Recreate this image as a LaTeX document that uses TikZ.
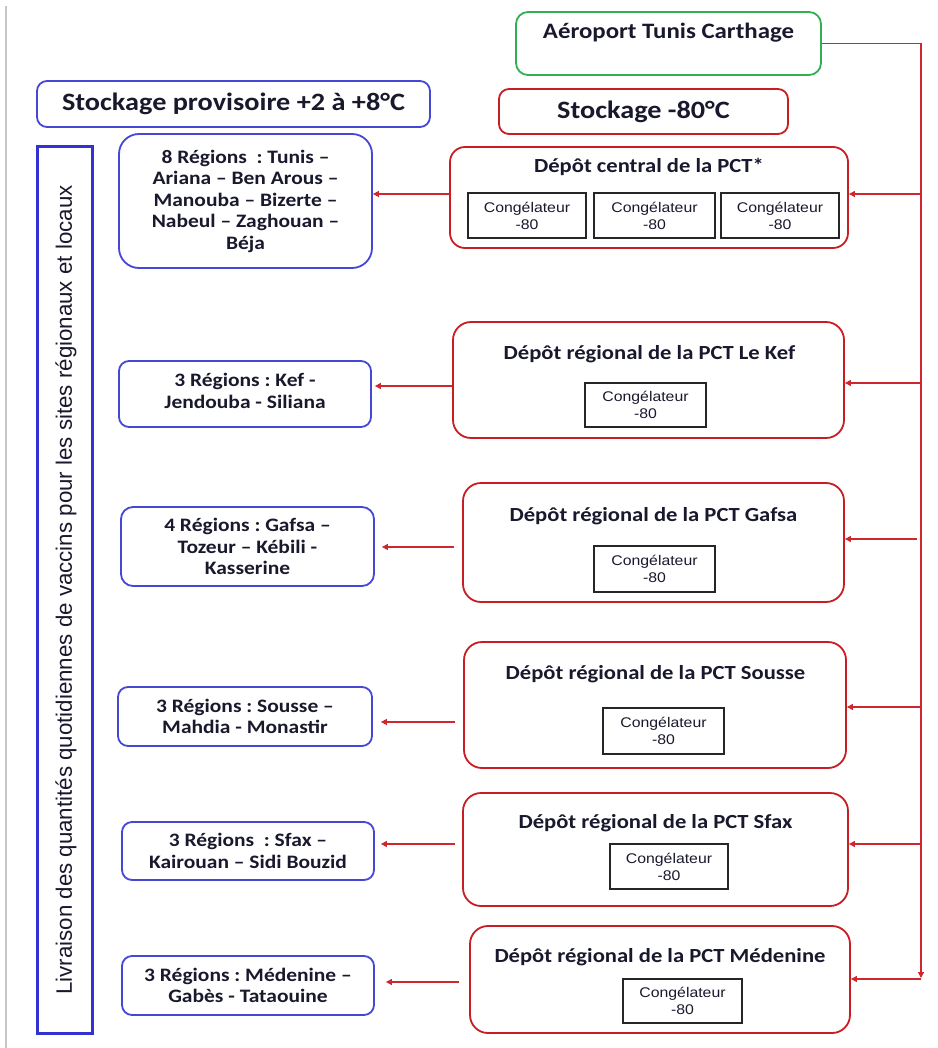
\documentclass[tikz,border=0pt]{standalone}
\usepackage{fontspec}
\usetikzlibrary{arrows.meta}
\newfontfamily\calb[FakeStretch=1.13]{Carlito}
\newfontfamily\arl[FakeStretch=1.13]{Liberation Sans}
\newfontfamily\arlv{Liberation Sans}
\definecolor{boxblue}{RGB}{70,70,215}
\definecolor{vblue}{RGB}{50,50,210}
\definecolor{boxred}{RGB}{200,30,35}
\definecolor{linered}{RGB}{205,40,45}
\definecolor{boxgreen}{RGB}{50,175,85}
\definecolor{txt}{RGB}{25,25,45}
\frenchspacing
\tikzset{
  bluebox/.style={draw=boxblue, line width=1.8pt, rounded corners=10pt, fill=white, inner sep=0pt},
  regtext/.style={font=\calb\bfseries\fontsize{19}{21.5}\selectfont, text=txt, align=center},
  redbox/.style={draw=boxred, line width=1.8pt, rounded corners=18pt, fill=white, inner sep=0pt},
  depottitle/.style={font=\calb\bfseries\fontsize{20}{24}\selectfont, text=txt, inner sep=0pt},
  bigtitle/.style={font=\calb\bfseries\fontsize{25}{28}\selectfont, text=txt, inner sep=0pt},
  frz/.style={draw=black!85, line width=1.6pt, fill=white, inner sep=0pt, align=center,
    font=\arl\fontsize{14}{17}\selectfont, text=txt},
  redline/.style={draw=linered, line width=1.3pt},
  arr/.style={redline, -{Triangle[length=6pt,width=6pt]}},
}
\begin{document}
\begin{tikzpicture}[x=1pt,y=-1pt]
\useasboundingbox (0,0) rectangle (937,1048);
\fill[white] (0,0) rectangle (937,1048);
% gray page edge
\coordinate (g1) at (6,6);
\coordinate (g2) at (6,1048);
\draw[gray!45, line width=1.5pt] (g1) -- (g2);

% top boxes
\node[draw=boxgreen, line width=1.8pt, rounded corners=12pt, minimum width=305pt, minimum height=63pt] (aero) at (668.5,43.5) {};
\node[font=\calb\bfseries\fontsize{22}{26}\selectfont, text=txt, inner sep=0pt] (aerot) at (668.5,33) {Aéroport Tunis Carthage};
\node[draw=boxred, line width=1.8pt, rounded corners=10pt, minimum width=289pt, minimum height=45pt, bigtitle] (sto80) at (643.5,111.5) {Stockage -80°C};
\node[bluebox, minimum width=393pt, minimum height=46pt, bigtitle] (stoprov) at (233.5,104) {Stockage provisoire +2 à +8°C};

% vertical box
\node[draw=vblue, line width=3pt, minimum width=55pt, minimum height=886pt, inner sep=0pt] (vbox) at (64.5,590) {};
\node[rotate=90, font=\arlv\fontsize{22.3}{24}\selectfont, text=txt, inner sep=0pt] (vtext) at (66,590) {Livraison des quantités quotidiennes de vaccins pour les sites régionaux et locaux};

% depots
\node[redbox, rounded corners=15pt, minimum width=398pt, minimum height=101pt] (central) at (649,197.5) {};
\node[depottitle] (centralt) at (649,167) {Dépôt central de la PCT*};
\node[frz, minimum width=118pt, minimum height=45pt] (cf1) at (527,215.5) {Congélateur\\-80};
\node[frz, minimum width=121pt, minimum height=45pt] (cf2) at (654.5,215.5) {Congélateur\\-80};
\node[frz, minimum width=118pt, minimum height=45pt] (cf3) at (780,215.5) {Congélateur\\-80};

\node[redbox, minimum width=391pt, minimum height=116pt] (kef) at (648.5,380) {};
\node[depottitle] (keft) at (649.5,354) {Dépôt régional de la PCT Le Kef};
\node[frz, minimum width=121pt, minimum height=44pt] (keff) at (645.5,405) {Congélateur\\-80};

\node[redbox, minimum width=381pt, minimum height=119pt] (gafsa) at (653.5,542.5) {};
\node[depottitle] (gafsat) at (653.5,516) {Dépôt régional de la PCT Gafsa};
\node[frz, minimum width=121pt, minimum height=46pt] (gafsaf) at (654.5,569) {Congélateur\\-80};

\node[redbox, minimum width=382pt, minimum height=126pt] (sousse) at (655,705) {};
\node[depottitle] (sousset) at (655.5,674) {Dépôt régional de la PCT Sousse};
\node[frz, minimum width=121pt, minimum height=46pt] (soussef) at (663.5,731) {Congélateur\\-80};

\node[redbox, minimum width=385pt, minimum height=113pt] (sfax) at (655.5,849.5) {};
\node[depottitle] (sfaxt) at (655.5,823) {Dépôt régional de la PCT Sfax};
\node[frz, minimum width=118pt, minimum height=45pt] (sfaxf) at (669,866.5) {Congélateur\\-80};

\node[redbox, minimum width=380pt, minimum height=107pt] (med) at (660,979.5) {};
\node[depottitle] (medt) at (660,957) {Dépôt régional de la PCT Médenine};
\node[frz, minimum width=119pt, minimum height=44pt] (medf) at (682.5,1001) {Congélateur\\-80};

% region boxes
\node[bluebox, rounded corners=20pt, minimum width=253pt, minimum height=134pt, regtext] (r1) at (245.5,201) {8 Régions~~: Tunis –\\Ariana – Ben Arous –\\Manouba – Bizerte –\\Nabeul – Zaghouan –\\Béja};
\node[bluebox, minimum width=252pt, minimum height=66pt, regtext] (r2) at (245,394) {};
\node[regtext] (r2t) at (245,391) {3 Régions : Kef -\\Jendouba - Siliana};
\node[bluebox, rounded corners=12pt, minimum width=253pt, minimum height=79pt, regtext] (r3) at (247.5,546.5) {4 Régions : Gafsa –\\Tozeur – Kébili -\\Kasserine};
\node[bluebox, minimum width=254pt, minimum height=59pt, regtext] (r4) at (245,716.5) {3 Régions : Sousse –\\Mahdia - Monastir};
\node[bluebox, minimum width=252pt, minimum height=58pt, regtext] (r5) at (248,851) {3 Régions~~: Sfax –\\Kairouan – Sidi Bouzid};
\node[bluebox, minimum width=252pt, minimum height=59pt, regtext] (r6) at (248,985.5) {3 Régions : Médenine –\\Gabès - Tataouine};

% trunk
\coordinate (tk1) at (921,43.5);
\coordinate (tk2) at (921,978);
\draw[redline, -{Triangle[length=6pt,width=6pt]}] (aero.east) -- (tk1) -- (tk2);

% branches to depots
\coordinate (b1) at (921,194);
\coordinate (b2) at (921,383);
\coordinate (b3) at (917,539);
\coordinate (b4) at (921,707);
\coordinate (b5) at (921,844);
\coordinate (b6) at (921,979);
\draw[arr] (b1) -- (b1 -| central.east);
\draw[arr] (b2) -- (b2 -| kef.east);
\draw[arr] (b3) -- (b3 -| gafsa.east);
\draw[arr] (b4) -- (b4 -| sousse.east);
\draw[arr] (b5) -- (b5 -| sfax.east);
\draw[arr] (b6) -- (b6 -| med.east);

% arrows to regions
\coordinate (l1) at (450,194);
\coordinate (l2) at (450,386);
\coordinate (l3) at (450,547);
\coordinate (l4) at (450,722);
\coordinate (l5) at (450,844);
\coordinate (l6) at (450,982);
\draw[arr] (l1 -| central.west) -- (l1 -| r1.east);
\draw[arr, shorten >=3pt] (l2 -| kef.west) -- (l2 -| r2.east);
\draw[arr, shorten <=8pt, shorten >=7pt] (l3 -| gafsa.west) -- (l3 -| r3.east);
\draw[arr, shorten <=8pt, shorten >=8pt] (l4 -| sousse.west) -- (l4 -| r4.east);
\draw[arr, shorten <=7pt, shorten >=6pt] (l5 -| sfax.west) -- (l5 -| r5.east);
\draw[arr, shorten <=10pt, shorten >=11pt] (l6 -| med.west) -- (l6 -| r6.east);
\end{tikzpicture}
\end{document}
